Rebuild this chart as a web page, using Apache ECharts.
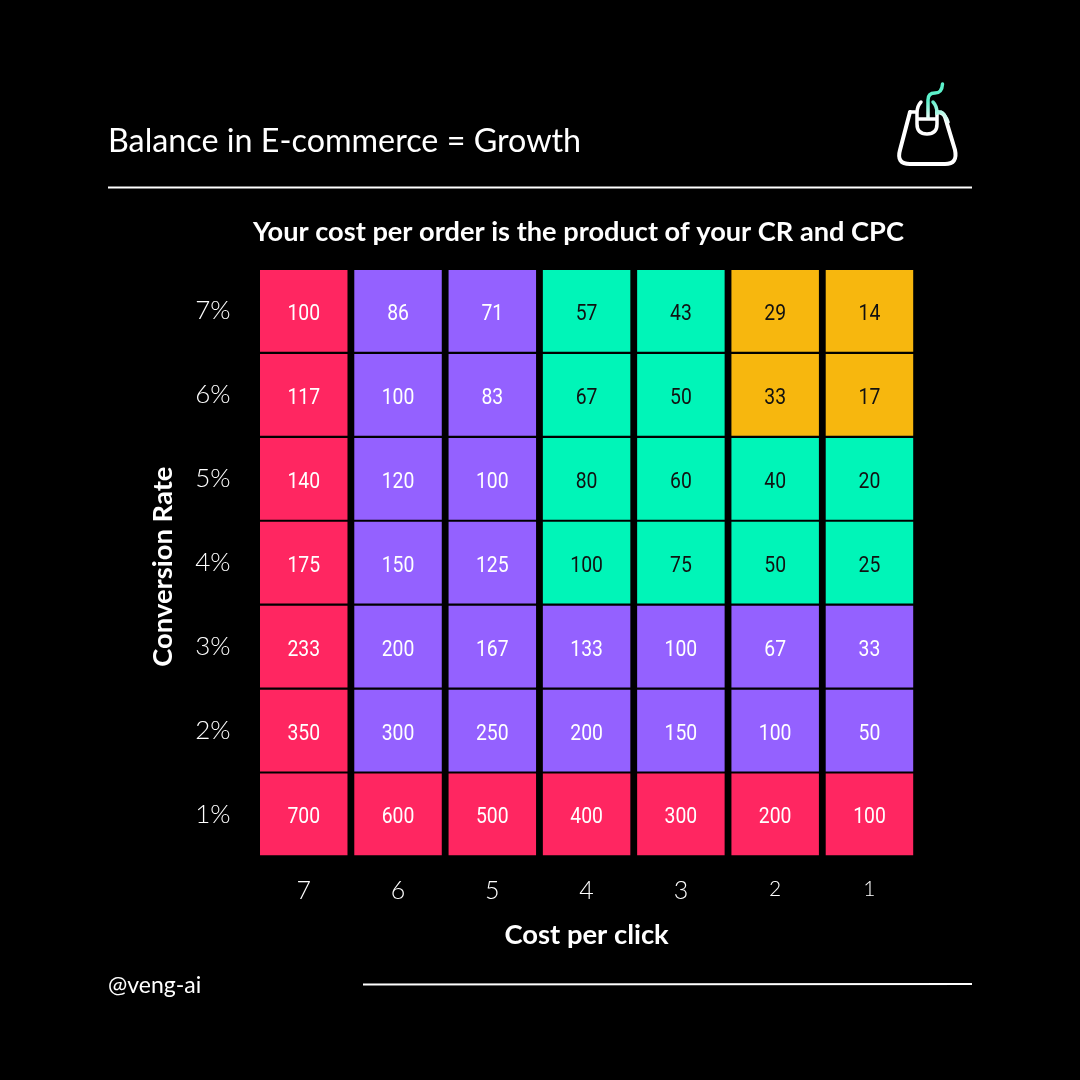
<!DOCTYPE html>
<html>
<head>
<meta charset="utf-8">
<title>Balance in E-commerce</title>
<style>
  html, body { margin: 0; padding: 0; background: #000; }
  #chart { width: 1080px; height: 1080px; }
</style>
<script src="https://cdn.jsdelivr.net/npm/echarts@6/dist/echarts.min.js"></script>
</head>
<body>
<div id="chart"></div>
<script>
// 横轴 / 纵轴
var cpcLabels = ['7', '6', '5', '4', '3', '2', '1'];
var crLabels = ['1%', '2%', '3%', '4%', '5%', '6%', '7%'];

// cost per order, one row per conversion rate, bottom row first
var rowCr1 = [700, 600, 500, 400, 300, 200, 100];
var rowCr2 = [350, 300, 250, 200, 150, 100, 50];
var rowCr3 = [233, 200, 167, 133, 100, 67, 33];
var rowCr4 = [175, 150, 125, 100, 75, 50, 25];
var rowCr5 = [140, 120, 100, 80, 60, 40, 20];
var rowCr6 = [117, 100, 83, 67, 50, 33, 17];
var rowCr7 = [100, 86, 71, 57, 43, 29, 14];
var costRows = [rowCr1, rowCr2, rowCr3, rowCr4, rowCr5, rowCr6, rowCr7];

// zone of each cell: r = red, p = purple, g = green, o = orange
var zoneRows = ['rrrrrrr', 'rpppppp', 'rpppppp', 'rppgggg', 'rppgggg', 'rppggoo', 'rppggoo'];

var zoneColor = { r: '#FF2661', p: '#9461FF', g: '#00F5B8', o: '#F7B70E' };
var zoneText = { r: '#fff', p: '#fff', g: '#111', o: '#111' };

var cells = [];
costRows.forEach(function (row, y) {
  row.forEach(function (v, x) {
    cells.push({ value: [x, y, v], zone: zoneRows[y][x] });
  });
});

var chart = echarts.init(document.getElementById('chart'));
var headFont = 'Lato';
var cellFont = 'Roboto';
var mint = '#5CF2CB';

function renderCell(params, api) {
  var c = api.coord([api.value(0), api.value(1)]);
  var s = api.size([1, 1]);
  var w = s[0] - 6.8;
  var h = s[1] - 2.2;
  var zone = cells[params.dataIndex].zone;
  return {
    type: 'rect',
    shape: { x: c[0] - w / 2, y: c[1] - h / 2, width: w, height: h },
    style: { fill: zoneColor[zone] },
    textContent: {
      scaleX: 0.88,
      style: {
        text: String(api.value(2)),
        fill: zoneText[zone],
        font: '400 22px ' + cellFont
      }
    },
    textConfig: { position: 'inside', offset: [0, 3.5] }
  };
}

// bag + mouse icon, top right
function renderIcon() {
  return {
    type: 'group',
    children: [
      { type: 'path', shape: { pathData: 'M910 112 L900 150 Q896 164 910 164 L945 164 Q958 164 955 150 L945 117 Q943 112 937 112' }, style: { fill: 'none', stroke: '#fff', lineWidth: 4, lineCap: 'round' } },
      { type: 'path', shape: { pathData: 'M910 112 L917 112 M921 102 Q917 106 917 113 L917 124 Q917 134 927 134 Q937 134 937 124 L937 113 M917 119 L937 119' }, style: { fill: 'none', stroke: '#fff', lineWidth: 3.5, lineCap: 'round' } },
      { type: 'path', shape: { pathData: 'M933 102 Q937 106 937 113 L941 112 Q945 114 948 122' }, style: { fill: 'none', lineWidth: 3.5, lineCap: 'round', stroke: new echarts.graphic.LinearGradient(0, 0, 1, 1, [{ offset: 0, color: mint }, { offset: 1, color: '#fff' }]) } },
      { type: 'path', shape: { pathData: 'M928 118 L928 100 Q928 93 935 93 Q942 93 942.5 84' }, style: { fill: 'none', lineWidth: 3.5, lineCap: 'round', stroke: new echarts.graphic.LinearGradient(0, 1, 0, 0, [{ offset: 0, color: '#fff' }, { offset: 0.5, color: mint }, { offset: 1, color: mint }]) } }
    ]
  };
}

// the reference numerals sit on different heights
function cpcLabel(v) {
  if (v === '6') return '{up|' + v + '}';
  if (v === '1' || v === '2') return '{small|' + v + '}';
  return '{base|' + v + '}';
}

var option = {
  backgroundColor: '#000',
  animation: false,
  grid: { left: 256.6, top: 269, width: 660, height: 587.4 },
  xAxis: {
    type: 'category',
    data: cpcLabels,
    axisLine: { show: false },
    axisTick: { show: false },
    splitLine: { show: false },
    axisLabel: {
      color: '#fff',
      margin: 22,
      formatter: cpcLabel,
      rich: {
        base: { color: '#fff', fontFamily: headFont, fontWeight: 300, fontSize: 25 },
        up: { color: '#fff', fontFamily: headFont, fontWeight: 300, fontSize: 25, padding: [0, 0, 5, 0] },
        small: { color: '#fff', fontFamily: headFont, fontWeight: 300, fontSize: 21, padding: [0, 0, 3, 0] }
      }
    },
    name: 'Cost per click',
    nameLocation: 'middle',
    nameGap: 65,
    nameTextStyle: { color: '#fff', fontFamily: headFont, fontWeight: 700, fontSize: 27.4 }
  },
  yAxis: {
    type: 'category',
    data: crLabels,
    axisLine: { show: false },
    axisTick: { show: false },
    splitLine: { show: false },
    axisLabel: { color: '#fff', fontFamily: headFont, fontWeight: 300, fontSize: 26, margin: 26, padding: [8, 0, 0, 0] },
    name: 'Conversion Rate',
    nameLocation: 'middle',
    nameRotate: 90,
    nameGap: 80,
    nameTextStyle: { color: '#fff', fontFamily: headFont, fontWeight: 700, fontSize: 27.4, padding: [0, 8, 0, 0] }
  },
  series: [{
    type: 'custom',
    renderItem: renderCell,
    encode: { x: 0, y: 1 },
    data: cells
  }, {
    type: 'custom',
    coordinateSystem: 'none',
    renderItem: renderIcon,
    data: [0]
  }],
  graphic: [
    { type: 'text', left: 108, top: 126, style: { text: 'Balance in E-commerce = Growth', fill: '#fff', font: '400 32.3px ' + headFont } },
    { type: 'text', left: 253, top: 219, style: { text: 'Your cost per order is the product of your CR and CPC', fill: '#fff', font: '700 27.2px ' + headFont } },
    { type: 'text', left: 108, top: 974, style: { text: '@veng-ai', fill: '#fff', font: '400 23px ' + headFont } },
    { type: 'line', shape: { x1: 108, y1: 187.5, x2: 972, y2: 187.5 }, style: { stroke: '#fff', lineWidth: 2 } },
    { type: 'line', shape: { x1: 363, y1: 984.5, x2: 972, y2: 984 }, style: { stroke: '#fff', lineWidth: 2 } }
  ]
};
chart.setOption(option);
</script>
</body>
</html>
